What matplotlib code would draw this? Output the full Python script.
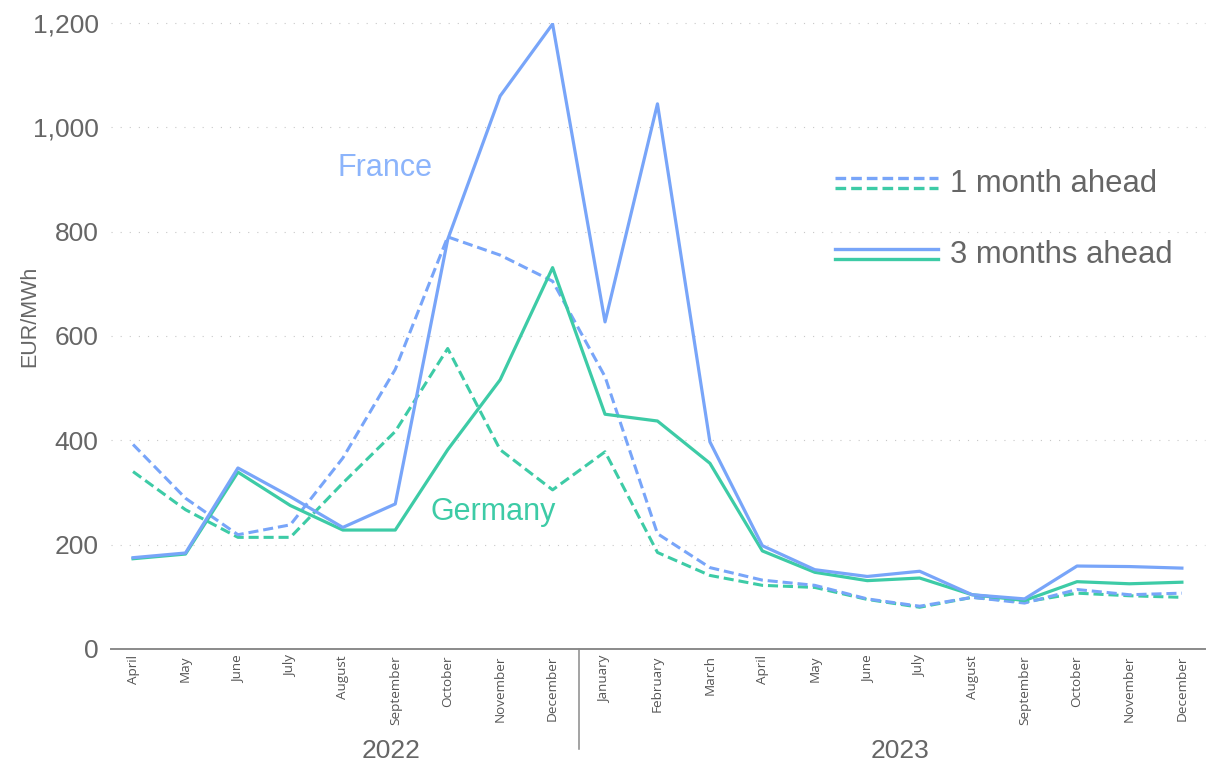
import matplotlib
matplotlib.use('Agg')
import matplotlib.pyplot as plt
import matplotlib.transforms as mtransforms

plt.rcParams['font.family'] = ['Liberation Sans', 'DejaVu Sans']

months = ['April', 'May', 'June', 'July', 'August', 'September', 'October',
          'November', 'December',
          'January', 'February', 'March', 'April', 'May', 'June', 'July',
          'August', 'September', 'October', 'November', 'December']
years = ['2022', '2023']

france_3m = [175, 184, 347, 292, 233, 278, 785, 1060, 1198,
             627, 1045, 397, 198, 152, 139, 149, 104, 96, 159, 158, 155]
germany_3m = [173, 182, 339, 275, 228, 228, 382, 516, 731,
              450, 437, 356, 188, 147, 131, 136, 104, 93, 129, 125, 128]
france_1m = [392, 289, 219, 238, 366, 536, 790, 755, 705,
             522, 221, 156, 132, 122, 96, 82, 99, 88, 114, 104, 107]
germany_1m = [340, 267, 214, 214, 318, 417, 576, 382, 305,
              378, 185, 141, 122, 118, 95, 80, 99, 90, 107, 102, 99]

blue = '#78a5f9'
green = '#3dcba6'
grey = '#666666'

fig = plt.figure(figsize=(12.12, 7.61), dpi=100)
ax = fig.add_axes([0.0916, 0.1472, 0.9026, 0.8226])

x = list(range(len(months)))
ax.plot(x, germany_1m, color=green, lw=2.2, dashes=(3.3, 1.6))
ax.plot(x, france_1m, color=blue, lw=2.2, dashes=(3.3, 1.6))
ax.plot(x, germany_3m, color=green, lw=2.3)
ax.plot(x, france_3m, color=blue, lw=2.3)

ax.set_xlim(-0.42, 20.44)
ax.set_ylim(0, 1200)
ax.set_yticks(range(0, 1201, 200))
ax.set_yticklabels(['{:,}'.format(v) for v in range(0, 1201, 200)])
for v in range(200, 1201, 200):
    ax.axhline(v, color='#c8c8c8', lw=0.8, dashes=(1, 7.2), clip_on=False, zorder=0)

for s in ['top', 'right', 'left']:
    ax.spines[s].set_visible(False)
ax.spines['bottom'].set_color('#8a8a8a')
ax.spines['bottom'].set_linewidth(1.4)
ax.tick_params(axis='y', length=0, pad=9, labelsize=19, labelcolor=grey)
ax.tick_params(axis='x', length=0)
ax.set_xticks(x)
ax.set_xticklabels([])

trans = mtransforms.blended_transform_factory(ax.transData, ax.transAxes)
for i, m in enumerate(months):
    ax.text(i, -0.01, m, rotation=90, ha='center', va='top', fontsize=9.7,
            color='#555555', family='Open Sans', transform=trans)

# year separator and labels
ax.plot([8.5, 8.5], [0, -0.16], color='#8a8a8a', lw=1.1, transform=trans, clip_on=False)
ytrans = mtransforms.blended_transform_factory(ax.transData, fig.transFigure)
ax.text(4.92, 3 / 761, years[0], ha='center', va='baseline', fontsize=19, color=grey, transform=ytrans)
ax.text(14.62, 3 / 761, years[1], ha='center', va='baseline', fontsize=19, color=grey, transform=ytrans)

fig.text(30 / 1212, 1 - 316 / 761, 'EUR/MWh', rotation=90, ha='center', va='center',
         fontsize=15.5, color=grey)

# series labels
ax.text(4.80, 922, 'France', ha='center', va='center', fontsize=22, color='#8cb4fb')
ax.text(6.86, 262, 'Germany', ha='center', va='center', fontsize=22, color=green)

# legend
ax.plot([0.6618, 0.756], [0.752, 0.752], color=blue, lw=2.4, dashes=(3.2, 1.5), transform=ax.transAxes, clip_on=False)
ax.plot([0.6618, 0.756], [0.736, 0.736], color=green, lw=2.4, dashes=(3.2, 1.5), transform=ax.transAxes, clip_on=False)
ax.plot([0.6618, 0.756], [0.639, 0.639], color=blue, lw=2.4, transform=ax.transAxes, clip_on=False)
ax.plot([0.6618, 0.756], [0.623, 0.623], color=green, lw=2.4, transform=ax.transAxes, clip_on=False)
ax.text(0.767, 0.743, '1 month ahead', ha='left', va='center', fontsize=22.3, color=grey, transform=ax.transAxes)
ax.text(0.767, 0.629, '3 months ahead', ha='left', va='center', fontsize=22.3, color=grey, transform=ax.transAxes)

fig.savefig('out.png', dpi=100)
